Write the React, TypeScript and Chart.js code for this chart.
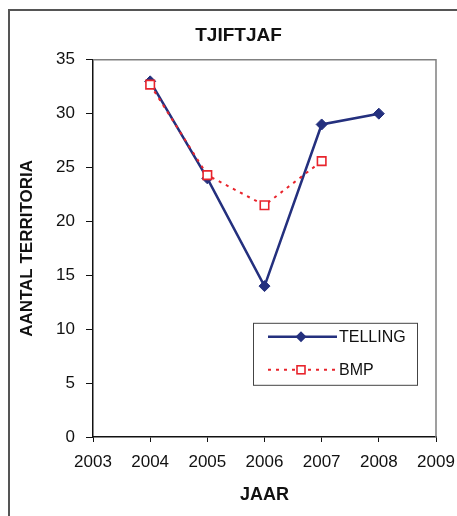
import React, { useEffect, useRef } from 'react';
import { Chart, registerables } from 'chart.js';

Chart.register(...registerables);

const chartTitle = 'TJIFTJAF';
const xAxisTitle = 'JAAR';
const yAxisTitle = 'AANTAL TERRITORIA';

const xTickLabels = ['2003', '2004', '2005', '2006', '2007', '2008', '2009'];

const tellingLabel = 'TELLING';
const tellingYears = [2004, 2005, 2006, 2007, 2008];
const tellingValues = [33, 24, 14, 29, 30];

const bmpLabel = 'BMP';
const bmpYears = [2004, 2005, 2006, 2007];
const bmpValues = [32.7, 24.3, 21.5, 25.6];

const FONT = '"Liberation Sans", Arial, sans-serif';
const NAVY = '#24307e';
const RED = '#e8242c';

function drawDiamond(ctx: CanvasRenderingContext2D, x: number, y: number, r: number, fill: string) {
  ctx.beginPath();
  ctx.moveTo(x, y - r);
  ctx.lineTo(x + r, y);
  ctx.lineTo(x, y + r);
  ctx.lineTo(x - r, y);
  ctx.closePath();
  ctx.fillStyle = fill;
  ctx.fill();
}

const plotBorderPlugin = {
  id: 'plotBorder',
  beforeDatasetsDraw(chart: any) {
    const { ctx, chartArea } = chart;
    ctx.save();
    ctx.strokeStyle = '#808080';
    ctx.lineWidth = 1.5;
    ctx.beginPath();
    ctx.moveTo(chartArea.left, chartArea.top);
    ctx.lineTo(chartArea.right, chartArea.top);
    ctx.lineTo(chartArea.right, chartArea.bottom);
    ctx.stroke();
    ctx.restore();
  },
};

const boxLegendPlugin = {
  id: 'boxLegend',
  afterDatasetsDraw(chart: any) {
    const { ctx, chartArea } = chart;
    const ds = chart.data.datasets;
    const w = 164;
    const h = 62;
    const left = chartArea.right - 19 - w;
    const top = chartArea.top + 263;
    ctx.save();
    ctx.fillStyle = '#ffffff';
    ctx.fillRect(left, top, w, h);
    ctx.strokeStyle = '#444';
    ctx.lineWidth = 1;
    ctx.strokeRect(left + 0.5, top + 0.5, w, h);
    const rows = [top + 14, top + 47];
    ds.forEach((d: any, i: number) => {
      const y = rows[i];
      ctx.save();
      ctx.strokeStyle = d.borderColor;
      ctx.lineWidth = d.borderWidth;
      ctx.setLineDash(d.borderDash || []);
      ctx.beginPath();
      ctx.moveTo(left + 15, y);
      ctx.lineTo(left + 84, y);
      ctx.stroke();
      ctx.restore();
      const mx = left + 48;
      if (d.pointStyle === 'rectRot') {
        drawDiamond(ctx, mx, y, 5.5, d.pointBackgroundColor);
      } else {
        ctx.fillStyle = '#fff';
        ctx.fillRect(mx - 4, y - 4, 8, 8);
        ctx.strokeStyle = d.pointBorderColor;
        ctx.lineWidth = 1.6;
        ctx.strokeRect(mx - 4, y - 4, 8, 8);
      }
      ctx.fillStyle = '#111';
      ctx.font = `16px ${FONT}`;
      ctx.textBaseline = 'middle';
      ctx.textAlign = 'left';
      ctx.fillText(d.label, left + 86, y + 1);
    });
    ctx.restore();
  },
};

export default function App() {
  const ref = useRef<HTMLCanvasElement | null>(null);

  useEffect(() => {
    if (!ref.current) return;
    const chart = new Chart(ref.current, {
      type: 'line',
      data: {
        datasets: [
          {
            label: tellingLabel,
            data: tellingYears.map((x, i) => ({ x, y: tellingValues[i] })),
            borderColor: NAVY,
            backgroundColor: NAVY,
            borderWidth: 2.5,
            pointStyle: 'rectRot',
            pointRadius: 5.5,
            pointBackgroundColor: NAVY,
            pointBorderColor: NAVY,
            pointBorderWidth: 1,
            tension: 0,
            order: 1,
          },
          {
            label: bmpLabel,
            data: bmpYears.map((x, i) => ({ x, y: bmpValues[i] })),
            borderColor: RED,
            backgroundColor: '#ffffff',
            borderWidth: 2,
            borderDash: [3, 5],
            pointStyle: 'rect',
            pointRadius: 6,
            pointBackgroundColor: '#ffffff',
            pointBorderColor: RED,
            pointBorderWidth: 1.6,
            tension: 0,
            order: 0,
          },
        ],
      },
      options: {
        animation: false,
        responsive: false,
        devicePixelRatio: 1,
        layout: { padding: { left: 41, right: 21, top: 10, bottom: 0 } },
        plugins: {
          legend: { display: false },
          tooltip: { enabled: false },
          title: {
            display: true,
            text: chartTitle,
            color: '#111',
            font: { family: FONT, size: 19, weight: 'bold' },
            padding: { top: 14, bottom: 13 },
          },
        },
        scales: {
          x: {
            type: 'linear',
            min: 2003,
            max: 2009,
            afterFit(scale: any) {
              scale.height = 79;
              scale.paddingLeft = 0;
              scale.paddingRight = 0;
            },
            ticks: {
              stepSize: 1,
              color: '#111',
              font: { family: FONT, size: 17 },
              padding: 10,
              maxRotation: 0,
              callback: (v: any, i: number) => xTickLabels[i] ?? String(v),
            },
            grid: {
              display: true,
              drawOnChartArea: false,
              drawTicks: true,
              tickLength: 5,
              color: '#111',
            },
            border: { display: true, color: '#111', width: 1.5 },
            title: {
              display: true,
              text: xAxisTitle,
              color: '#111',
              font: { family: FONT, size: 18, weight: 'bold' },
              padding: { top: 0, bottom: 10 },
            },
          },
          y: {
            type: 'linear',
            min: 0,
            max: 35,
            afterFit(scale: any) {
              scale.width = 52;
              scale.paddingTop = 0;
              scale.paddingBottom = 0;
            },
            ticks: {
              stepSize: 5,
              color: '#111',
              font: { family: FONT, size: 17 },
              padding: 11,
            },
            grid: {
              display: true,
              drawOnChartArea: false,
              drawTicks: true,
              tickLength: 7,
              color: '#111',
            },
            border: { display: true, color: '#111', width: 1.5 },
            title: {
              display: true,
              text: yAxisTitle,
              color: '#111',
              font: { family: FONT, size: 17, weight: 'bold' },
              padding: { top: -24, bottom: 0 },
            },
          },
        },
      },
      plugins: [plotBorderPlugin, boxLegendPlugin],
    });
    return () => chart.destroy();
  }, []);

  return (
    <div
      style={{
        position: 'fixed',
        left: 0,
        top: 0,
        width: 457,
        height: 516,
        background: '#fff',
        overflow: 'hidden',
      }}
    >
      <div
        style={{
          position: 'absolute',
          left: 8,
          top: 9,
          width: 470,
          height: 530,
          borderLeft: '2px solid #555',
          borderTop: '2px solid #555',
        }}
      />
      <canvas
        ref={ref}
        width={457}
        height={516}
        style={{ position: 'absolute', left: 0, top: 0, width: 457, height: 516 }}
      />
    </div>
  );
}
